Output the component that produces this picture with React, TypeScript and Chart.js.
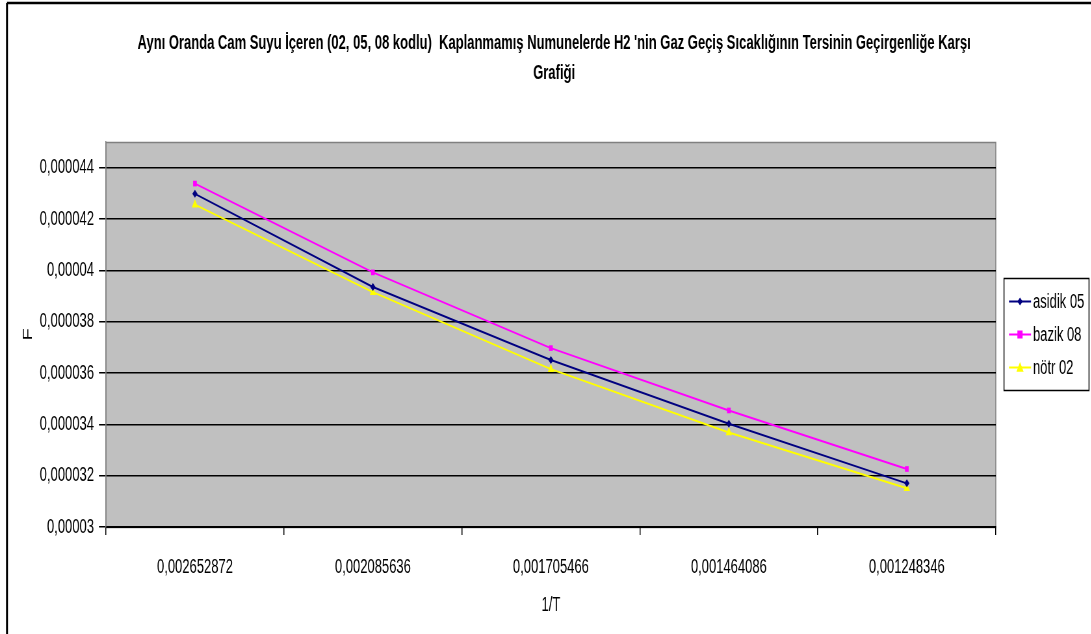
import React, { useEffect, useRef } from 'react';
import { Chart, registerables } from 'chart.js';

Chart.register(...registerables);

const TITLE_LINES = [
  "Aynı Oranda Cam Suyu İçeren (02, 05, 08 kodlu)  Kaplanmamış Numunelerde H2 'nin Gaz Geçiş Sıcaklığının Tersinin Geçirgenliğe Karşı",
  'Grafiği',
];
const X_TITLE = '1/T';
const Y_TITLE = 'F';

const CATEGORIES = ['0,002652872', '0,002085636', '0,001705466', '0,001464086', '0,001248346'];

const SERIES_NAMES = ['asidik 05', 'bazik 08', 'nötr 02'];
const ASIDIK_05 = [0.00004298, 0.00003935, 0.00003651, 0.00003402, 0.0000317];
const BAZIK_08 = [0.00004338, 0.00003992, 0.00003697, 0.00003454, 0.00003226];
const NOTR_02 = [0.00004256, 0.00003915, 0.00003615, 0.00003368, 0.00003151];

const Y_MIN = 0.00003;
const Y_MAX = 0.000045;
const Y_TICKS = [0.00003, 0.000032, 0.000034, 0.000036, 0.000038, 0.00004, 0.000042, 0.000044];

const COLORS = ['#000080', '#FF00FF', '#FFFF00'];
const POINT_STYLES = ['rectRot', 'rect', 'triangle'];

// The reference picture is horizontally condensed: draw on a wider canvas and squeeze it.
const SX = 0.65;
const L = (x: number) => x / SX;
const W = Math.round(L(1108));
const H = 634;
const FAMILY = "'Liberation Sans', Arial, sans-serif";

function drawMarker(ctx: CanvasRenderingContext2D, style: string, x: number, y: number, r: number, color: string) {
  ctx.save();
  ctx.fillStyle = color;
  ctx.beginPath();
  if (style === 'rect') {
    ctx.rect(x - r, y - r, r * 2, r * 2);
  } else if (style === 'rectRot') {
    ctx.moveTo(x, y - r);
    ctx.lineTo(x + r, y);
    ctx.lineTo(x, y + r);
    ctx.lineTo(x - r, y);
    ctx.closePath();
  } else {
    ctx.moveTo(x, y - r);
    ctx.lineTo(x + r, y + r * 0.75);
    ctx.lineTo(x - r, y + r * 0.75);
    ctx.closePath();
  }
  ctx.fill();
  ctx.restore();
}

export default function App() {
  const ref = useRef<HTMLCanvasElement | null>(null);

  useEffect(() => {
    const canvas = ref.current;
    if (!canvas) return;

    const framePlugin = {
      id: 'frameAndPlot',
      beforeDraw(chart: any) {
        const { ctx, chartArea } = chart;
        ctx.save();
        ctx.fillStyle = '#FFFFFF';
        ctx.fillRect(0, 0, chart.width, chart.height);
        ctx.strokeStyle = '#000000';
        ctx.lineWidth = 3;
        ctx.beginPath();
        ctx.moveTo(L(7), chart.height + 10);
        ctx.lineTo(L(7), 3);
        ctx.stroke();
        ctx.lineWidth = 2.5;
        ctx.beginPath();
        ctx.moveTo(L(7), 3);
        ctx.lineTo(chart.width + 10, 3);
        ctx.stroke();
        ctx.fillStyle = '#C0C0C0';
        ctx.fillRect(chartArea.left, chartArea.top, chartArea.right - chartArea.left, chartArea.bottom - chartArea.top);
        ctx.strokeStyle = '#808080';
        ctx.lineWidth = 1.5;
        ctx.strokeRect(chartArea.left, chartArea.top + 0.5, chartArea.right - chartArea.left, chartArea.bottom - chartArea.top);
        ctx.restore();
      },
    };

    const legendPlugin = {
      id: 'boxLegend',
      afterDraw(chart: any) {
        const { ctx } = chart;
        const x0 = L(1004);
        const y0 = 278.5;
        const w = L(85);
        const h = 112;
        ctx.save();
        ctx.fillStyle = '#FFFFFF';
        ctx.fillRect(x0, y0, w, h);
        ctx.strokeStyle = '#000000';
        ctx.lineWidth = 1.5;
        ctx.strokeRect(x0, y0, w, h);
        ctx.font = `20px ${FAMILY}`;
        ctx.textBaseline = 'middle';
        ctx.textAlign = 'left';
        chart.data.datasets.forEach((ds: any, i: number) => {
          const y = y0 + 23 + i * 33;
          ctx.strokeStyle = ds.borderColor;
          ctx.lineWidth = 2;
          ctx.beginPath();
          ctx.moveTo(L(1009), y);
          ctx.lineTo(L(1031), y);
          ctx.stroke();
          drawMarker(ctx, ds.pointStyle, L(1020), y, ds.pointStyle === 'triangle' ? 5.5 : 4, ds.borderColor);
          ctx.fillStyle = '#000000';
          ctx.fillText(ds.label, L(1033), y + 1);
        });
        ctx.restore();
      },
    };

    const series = [ASIDIK_05, BAZIK_08, NOTR_02];
    const chart = new Chart(canvas, {
      type: 'line',
      data: {
        labels: CATEGORIES,
        datasets: series.map((d, i) => ({
          label: SERIES_NAMES[i],
          data: d,
          yAxisID: 'y',
          borderColor: COLORS[i],
          backgroundColor: COLORS[i],
          pointBackgroundColor: COLORS[i],
          pointBorderColor: COLORS[i],
          pointBorderWidth: 0,
          pointStyle: POINT_STYLES[i],
          pointRadius: i === 2 ? 5.5 : 4,
          borderWidth: 2,
          tension: 0,
          fill: false,
        })),
      },
      options: {
        responsive: false,
        animation: false,
        devicePixelRatio: 1,
        layout: { padding: 0 },
        plugins: {
          legend: { display: false },
          tooltip: { enabled: false },
          title: {
            display: true,
            text: TITLE_LINES,
            color: '#000000',
            font: { family: FAMILY, size: 20, weight: 'bold', lineHeight: 1.5 },
            padding: { top: 28, bottom: 54 },
          },
        },
        scales: {
          x: {
            type: 'category',
            offset: true,
            afterFit(scale: any) {
              scale.height = H - 527;
            },
            grid: {
              offset: true,
              drawOnChartArea: false,
              drawTicks: true,
              tickLength: 8,
              color: '#000000',
              lineWidth: 1.5,
            },
            border: { display: true, color: '#000000', width: 2 },
            ticks: {
              color: '#000000',
              font: { family: FAMILY, size: 20 },
              padding: 20,
              maxRotation: 0,
              autoSkip: false,
            },
            title: {
              display: true,
              text: X_TITLE,
              color: '#000000',
              font: { family: FAMILY, size: 20 },
              padding: { top: 0, bottom: 17 },
            },
          },
          y: {
            type: 'linear',
            position: 'left',
            min: Y_MIN,
            max: Y_MAX,
            afterFit(scale: any) {
              scale.width = Math.round(L(106));
            },
            afterBuildTicks(scale: any) {
              scale.ticks = Y_TICKS.map((v) => ({ value: v }));
            },
            grid: {
              color: '#000000',
              lineWidth: 1.5,
              tickLength: L(7),
              tickColor: '#000000',
              tickWidth: 1.5,
            },
            border: { display: true, color: '#808080', width: 1.5 },
            ticks: {
              color: '#000000',
              font: { family: FAMILY, size: 20 },
              padding: L(5),
              callback: (v: any) => String(parseFloat(Number(v).toFixed(8))).replace('.', ','),
            },
            title: {
              display: true,
              text: Y_TITLE,
              color: '#000000',
              font: { family: FAMILY, size: 20 },
              padding: { top: L(28) - 12, bottom: 0 },
            },
          },
          legendSpace: {
            type: 'linear',
            position: 'right',
            display: true,
            afterFit(scale: any) {
              scale.width = W - Math.round(L(996));
            },
            grid: { display: false, drawTicks: false },
            border: { display: false },
            ticks: { display: false },
          },
        },
      },
      plugins: [framePlugin, legendPlugin],
    } as any);

    return () => chart.destroy();
  }, []);

  return (
    <div style={{ position: 'fixed', left: 0, top: 0, width: 1091, height: 634, overflow: 'hidden', background: '#fff' }}>
      <div style={{ width: W, height: H, transform: `scaleX(${SX})`, transformOrigin: '0 0' }}>
        <canvas ref={ref} width={W} height={H} style={{ display: 'block' }} />
      </div>
    </div>
  );
}
